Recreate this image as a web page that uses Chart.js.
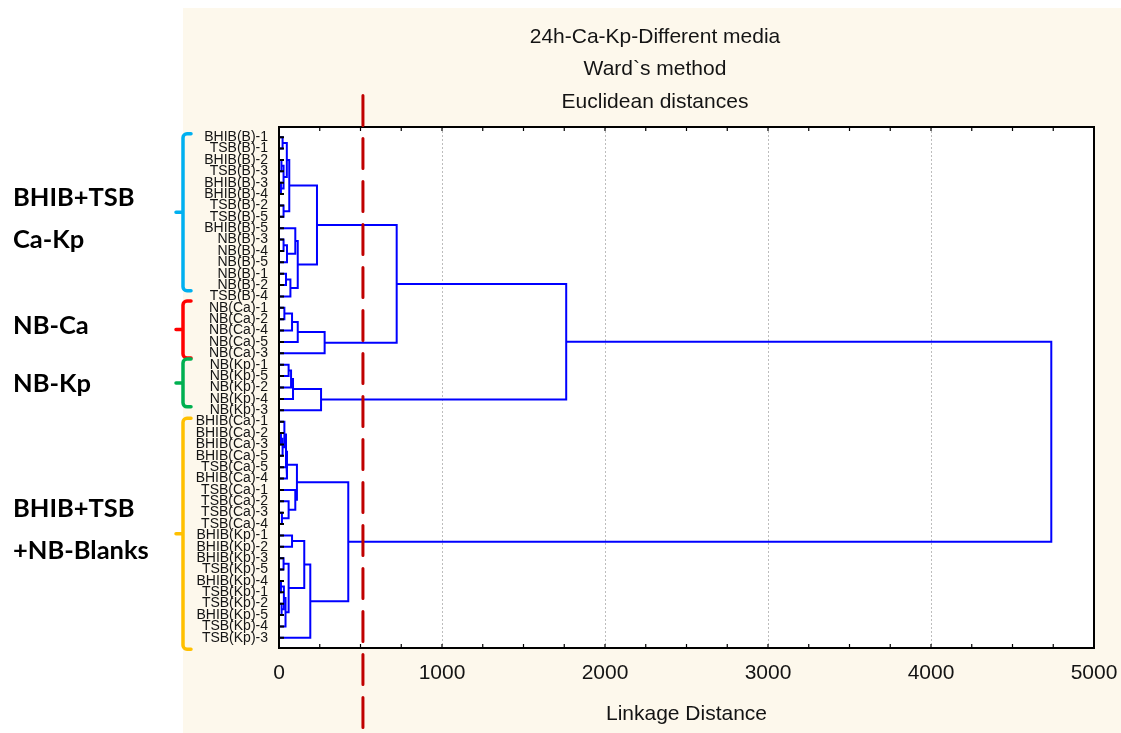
<!DOCTYPE html>
<html>
<head>
<meta charset="utf-8">
<title>24h-Ca-Kp-Different media</title>
<script src="https://cdn.jsdelivr.net/npm/chart.js@4.4.0/dist/chart.umd.min.js"></script>
<style>
  html, body { margin: 0; padding: 0; background: #ffffff; }
  #wrap { position: relative; width: 1121px; height: 733px; }
</style>
</head>
<body>
<div id="wrap"><canvas id="tree" width="1121" height="733"></canvas></div>
<script>
// ---- data -------------------------------------------------------------
const titleLines = ['24h-Ca-Kp-Different media', 'Ward`s method', 'Euclidean distances'];
const axisTitle = 'Linkage Distance';

// leaf order along the vertical axis (top to bottom)
const leafLabels = [
  'BHIB(B)-1', 'TSB(B)-1', 'BHIB(B)-2', 'TSB(B)-3', 'BHIB(B)-3', 'BHIB(B)-4', 'TSB(B)-2', 'TSB(B)-5', 'BHIB(B)-5',
  'NB(B)-3', 'NB(B)-4', 'NB(B)-5', 'NB(B)-1', 'NB(B)-2', 'TSB(B)-4',
  'NB(Ca)-1', 'NB(Ca)-2', 'NB(Ca)-4', 'NB(Ca)-5', 'NB(Ca)-3',
  'NB(Kp)-1', 'NB(Kp)-5', 'NB(Kp)-2', 'NB(Kp)-4', 'NB(Kp)-3',
  'BHIB(Ca)-1', 'BHIB(Ca)-2', 'BHIB(Ca)-3', 'BHIB(Ca)-5', 'TSB(Ca)-5', 'BHIB(Ca)-4',
  'TSB(Ca)-1', 'TSB(Ca)-2', 'TSB(Ca)-3', 'TSB(Ca)-4',
  'BHIB(Kp)-1', 'BHIB(Kp)-2', 'BHIB(Kp)-3', 'TSB(Kp)-5', 'BHIB(Kp)-4', 'TSB(Kp)-1', 'TSB(Kp)-2',
  'BHIB(Kp)-5', 'TSB(Kp)-4', 'TSB(Kp)-3'
];

// Ward linkage steps: ids 0..44 are leaves, id 45+k is the cluster built at step k
const linkLeft = [0, 2, 4, 46, 45, 6, 49, 9, 52, 8, 12, 55, 54, 51, 15, 59, 60, 61, 58, 20,
                  64, 65, 66, 63, 26, 69, 25, 71, 72, 33, 32, 31, 73, 35, 37, 39, 41, 80, 82, 79,
                  78, 85, 77, 68];
const linkRight = [1, 3, 5, 47, 48, 7, 50, 10, 11, 53, 13, 14, 56, 57, 16, 17, 18, 19, 62, 21,
                   22, 23, 24, 67, 27, 28, 70, 29, 30, 34, 74, 75, 76, 36, 38, 40, 42, 81, 43, 83,
                   84, 44, 86, 87];
const linkDistance = [22, 15, 12, 28, 48, 28, 63, 28, 49, 100, 43, 70, 115, 233, 33, 80, 115, 280, 722, 59,
                      74, 86, 258, 1762, 12, 22, 33, 43, 49, 18, 59, 100, 110, 80, 28, 12, 16, 30, 40, 59,
                      155, 192, 425, 4738];

const distanceTicks = [0, 1000, 2000, 3000, 4000, 5000];
const cutDistance = 515;

const groupNames = [['BHIB+TSB', 'Ca-Kp'], ['NB-Ca'], ['NB-Kp'], ['BHIB+TSB', '+NB-Blanks']];

// ---- styling ----------------------------------------------------------
const FONT = "'Liberation Sans', Arial, Helvetica, sans-serif";
const TEXT = '#141414';
// brace spans / label centres are given in leaf-axis units
const groupStyle = [
  { color: '#00b0f0', from: -0.3, to: 13.5, labelAt: 7.2 },
  { color: '#ff0000', from: 14.4, to: 19.4, labelAt: 16.6 },
  { color: '#00b050', from: 19.5, to: 23.7, labelAt: 21.7 },
  { color: '#ffc000', from: 24.7, to: 45.0, labelAt: 34.5 }
];

// ---- build the link brackets from the linkage steps --------------------
const nodePos = leafLabels.map((_, i) => i);
const nodeHeight = leafLabels.map(() => 0);
const linkDatasets = linkDistance.map((d, k) => {
  const a = linkLeft[k], b = linkRight[k];
  const ds = {
    data: [
      { x: nodeHeight[a], y: nodePos[a] },
      { x: d, y: nodePos[a] },
      { x: d, y: nodePos[b] },
      { x: nodeHeight[b], y: nodePos[b] }
    ],
    showLine: true,
    borderColor: '#0000ff',
    borderWidth: 2,
    pointRadius: 0,
    tension: 0,
    fill: false
  };
  nodePos.push((nodePos[a] + nodePos[b]) / 2);
  nodeHeight.push(d);
  return ds;
});

// ---- plugins ----------------------------------------------------------
const panelPlugin = {
  id: 'panel',
  beforeDraw(chart) {
    const { ctx, chartArea: a, width, height } = chart;
    ctx.save();
    ctx.fillStyle = '#ffffff';
    ctx.fillRect(0, 0, width, height);
    ctx.fillStyle = '#fdf8ec';
    ctx.fillRect(183, 8, width - 183, height - 8);
    ctx.fillStyle = '#ffffff';
    ctx.fillRect(a.left, a.top, a.right - a.left, a.bottom - a.top);
    // three-line heading
    ctx.fillStyle = TEXT;
    ctx.font = "21px " + FONT;
    ctx.textAlign = 'center';
    ctx.textBaseline = 'middle';
    titleLines.forEach((t, i) => ctx.fillText(t, 655, 37 + i * 32.5));
    ctx.restore();
  }
};

const gridPlugin = {
  id: 'dottedGrid',
  beforeDatasetsDraw(chart) {
    const { ctx, chartArea: a, scales: { x } } = chart;
    ctx.save();
    ctx.strokeStyle = '#bdbdbd';
    ctx.lineWidth = 1;
    ctx.setLineDash([2, 2]);
    distanceTicks.slice(1, -1).forEach(v => {
      const px = Math.round(x.getPixelForValue(v)) + 0.5;
      ctx.beginPath();
      ctx.moveTo(px, a.top);
      ctx.lineTo(px, a.bottom);
      ctx.stroke();
    });
    ctx.restore();
  }
};

const framePlugin = {
  id: 'frame',
  afterDatasetsDraw(chart) {
    const { ctx, chartArea: a, scales: { x, y } } = chart;
    ctx.save();
    ctx.strokeStyle = '#000000';
    ctx.lineWidth = 1.2;
    ctx.beginPath();
    // inward minor ticks on the distance axis, top and bottom
    for (let v = 250; v < 5000; v += 250) {
      const px = x.getPixelForValue(v);
      ctx.moveTo(px, a.bottom);
      ctx.lineTo(px, a.bottom - 4);
      ctx.moveTo(px, a.top);
      ctx.lineTo(px, a.top + 4);
    }
    ctx.stroke();
    // leaf ticks
    ctx.lineWidth = 2;
    ctx.beginPath();
    leafLabels.forEach((_, i) => {
      const py = y.getPixelForValue(i);
      ctx.moveTo(a.left, py);
      ctx.lineTo(a.left + 5, py);
    });
    ctx.stroke();
    ctx.lineWidth = 2;
    ctx.strokeRect(a.left, a.top, a.right - a.left, a.bottom - a.top);
    ctx.restore();
  }
};

const cutPlugin = {
  id: 'cutLine',
  afterDraw(chart) {
    const { ctx, height, scales: { x } } = chart;
    const px = x.getPixelForValue(cutDistance);
    ctx.save();
    ctx.strokeStyle = '#c00000';
    ctx.lineWidth = 3;
    ctx.lineCap = 'round';
    ctx.setLineDash([30, 13]);
    ctx.beginPath();
    ctx.moveTo(px, 95.5);
    ctx.lineTo(px, height);
    ctx.stroke();
    ctx.restore();
  }
};

const groupPlugin = {
  id: 'groups',
  afterDraw(chart) {
    const { ctx, scales: { y } } = chart;
    ctx.save();
    groupStyle.forEach((g, i) => {
      const top = y.getPixelForValue(g.from);
      const bot = y.getPixelForValue(g.to);
      const mid = (top + bot) / 2;
      const bx = 183, r = 4;
      ctx.strokeStyle = g.color;
      ctx.lineWidth = 3.5;
      ctx.lineCap = 'round';
      ctx.lineJoin = 'round';
      ctx.beginPath();
      ctx.moveTo(bx + 8, top);
      ctx.arcTo(bx, top, bx, top + r, r);
      ctx.lineTo(bx, bot - r);
      ctx.arcTo(bx, bot, bx + 8, bot, r);
      ctx.lineTo(bx + 8, bot);
      ctx.moveTo(bx - 7, mid);
      ctx.lineTo(bx, mid);
      ctx.stroke();

      const lines = groupNames[i];
      const centre = y.getPixelForValue(g.labelAt);
      const step = 42;
      ctx.fillStyle = '#000000';
      ctx.font = "bold 25.5px Lato, 'Open Sans', sans-serif";
      ctx.textAlign = 'left';
      ctx.textBaseline = 'middle';
      lines.forEach((t, j) => {
        ctx.fillText(t, 13, centre + (j - (lines.length - 1) / 2) * step);
      });
    });
    ctx.restore();
  }
};

// ---- chart ------------------------------------------------------------
new Chart(document.getElementById('tree'), {
  type: 'scatter',
  data: { datasets: linkDatasets },
  plugins: [panelPlugin, gridPlugin, framePlugin, cutPlugin, groupPlugin],
  options: {
    responsive: false,
    animation: false,
    devicePixelRatio: 1,
    events: [],
    layout: { padding: { left: 190, right: 27, top: 127, bottom: 0 } },
    plugins: {
      legend: { display: false },
      tooltip: { enabled: false },
      title: { display: false }
    },
    scales: {
      x: {
        type: 'linear',
        position: 'bottom',
        min: 0,
        max: 5000,
        grid: { display: false, drawTicks: false },
        border: { display: false },
        afterBuildTicks: s => { s.ticks = distanceTicks.map(v => ({ value: v })); },
        ticks: {
          padding: 13,
          maxRotation: 0,
          color: TEXT,
          font: { family: FONT, size: 21 },
          callback: v => String(v)
        },
        title: {
          display: true,
          text: axisTitle,
          color: TEXT,
          font: { family: FONT, size: 21 },
          padding: { top: 0, bottom: 6 }
        },
        afterFit: s => { s.height = 85; s.paddingLeft = 0; s.paddingRight = 0; }
      },
      y: {
        type: 'linear',
        reverse: true,
        min: -0.9,
        max: 44.9,
        grid: { display: false, drawTicks: false },
        border: { display: false },
        afterBuildTicks: s => { s.ticks = leafLabels.map((_, i) => ({ value: i })); },
        ticks: {
          autoSkip: false,
          padding: 11,
          color: TEXT,
          font: { family: FONT, size: 14 },
          callback: v => leafLabels[v]
        },
        afterFit: s => { s.width = 89; s.paddingTop = 0; s.paddingBottom = 0; }
      }
    }
  }
});
</script>
</body>
</html>
